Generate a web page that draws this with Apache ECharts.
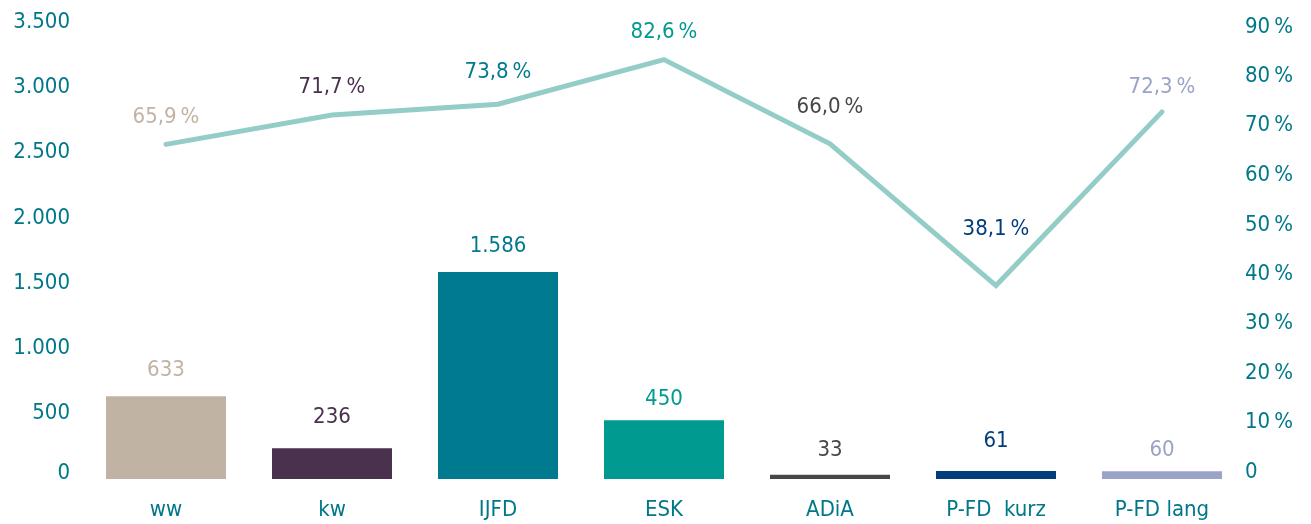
<!DOCTYPE html>
<html><head><meta charset="utf-8">
<script src="https://cdn.jsdelivr.net/npm/echarts@6/dist/echarts.min.js"></script>
<style>html,body{margin:0;padding:0;background:#fff}#c{width:1311px;height:524px}</style>
</head><body><div id="c"></div>
<script>
const categories = ['ww','kw','IJFD','ESK','ADiA','P-FD  kurz','P-FD lang'];
const barValues = [633, 236, 1586, 450, 33, 61, 60];
const lineValues = [65.9, 71.7, 73.8, 82.6, 66.0, 38.1, 72.3];
const leftTicks = [0, 500, 1000, 1500, 2000, 2500, 3000, 3500];
const rightTicks = [0, 10, 20, 30, 40, 50, 60, 70, 80, 90];
const barColors = ['#c0b3a3','#4a314d','#007a8e','#009a91','#474747','#003d7a','#9aa3c8'];
const labelColors = ['#c0b3a3','#4a314d','#007a8e','#009a91','#474747','#003d7a','#9aa3c8'];
// label placement styling (px gaps above the marks)
const barLabelGap = [15, 20, 15, 10, 13, 19, 10];
const lineLabelGap = [15, 16, 20, 15, 25, 44, 13];
const axisColor = '#00788a';
const lineColor = '#94cdc7';
const FONT = '"DejaVu Sans Condensed", "DejaVu Sans", sans-serif';
const FS = 22;

function fmtInt(v){ return String(v).replace(/\B(?=(\d{3})+(?!\d))/g, '.'); }
function fmtPct(v){ return v.toFixed(1).replace('.', ',') + '\u2009%'; }

// per-tick vertical nudges of the axis labels (px, + = down)
function rightShift(v){ return Math.round(5 - 12 * (90 - v) / 90); }
function leftShift(v){ return v === 0 ? -6 : 0; }
function richFor(ticks, shiftFn){
  const r = {};
  ticks.forEach(v => {
    const s = shiftFn(v);
    r['t' + v] = {color: axisColor, fontSize: FS, fontFamily: FONT,
      padding: s >= 0 ? [2*s, 0, 0, 0] : [0, 0, -2*s, 0]};
  });
  return r;
}

const chart = echarts.init(document.getElementById('c'), null, {renderer:'canvas'});
chart.setOption({
  animation: false,
  textStyle: {fontFamily: FONT},
  grid: {left: 83, right: 66, top: 22, bottom: 45, containLabel: false},
  xAxis: {
    type: 'category', data: categories,
    axisLine: {show: false}, axisTick: {show: false},
    axisLabel: {color: axisColor, fontSize: FS, fontFamily: FONT, margin: 20}
  },
  yAxis: [
    {type: 'value', min: 0, max: 3500, interval: 500,
     splitLine: {show: false}, axisLine: {show: false}, axisTick: {show: false},
     axisLabel: {color: axisColor, fontSize: FS, fontFamily: FONT, margin: 13,
       rich: richFor(leftTicks, leftShift),
       formatter: v => '{t' + v + '|' + fmtInt(v) + '}'}},
    {type: 'value', min: 0, max: 90, interval: 10, position: 'right',
     splitLine: {show: false}, axisLine: {show: false}, axisTick: {show: false},
     axisLabel: {color: axisColor, fontSize: FS, fontFamily: FONT, margin: 0, align: 'left',
       rich: richFor(rightTicks, rightShift),
       formatter: v => '{t' + v + '|' + (v === 0 ? '0' : v + '\u2009%') + '}'}}
  ],
  series: [
    {type: 'bar', yAxisIndex: 0, barWidth: 120,
     data: barValues.map((v,i) => ({value: v, itemStyle: {color: barColors[i]},
       label: {color: labelColors[i], distance: barLabelGap[i]}})),
     label: {show: true, position: 'top', fontSize: FS, fontFamily: FONT,
       formatter: p => fmtInt(p.value)}},
    {type: 'line', yAxisIndex: 1, symbol: 'circle', symbolSize: 2, showSymbol: true,
     itemStyle: {color: lineColor},
     lineStyle: {color: lineColor, width: 5, cap: 'round', join: 'miter'},
     data: lineValues.map((v,i) => ({value: v, label: {color: labelColors[i], distance: lineLabelGap[i]}})),
     label: {show: true, position: 'top', fontSize: FS, fontFamily: FONT, opacity: 1,
       formatter: p => fmtPct(p.value)}}
  ]
});
</script></body></html>
